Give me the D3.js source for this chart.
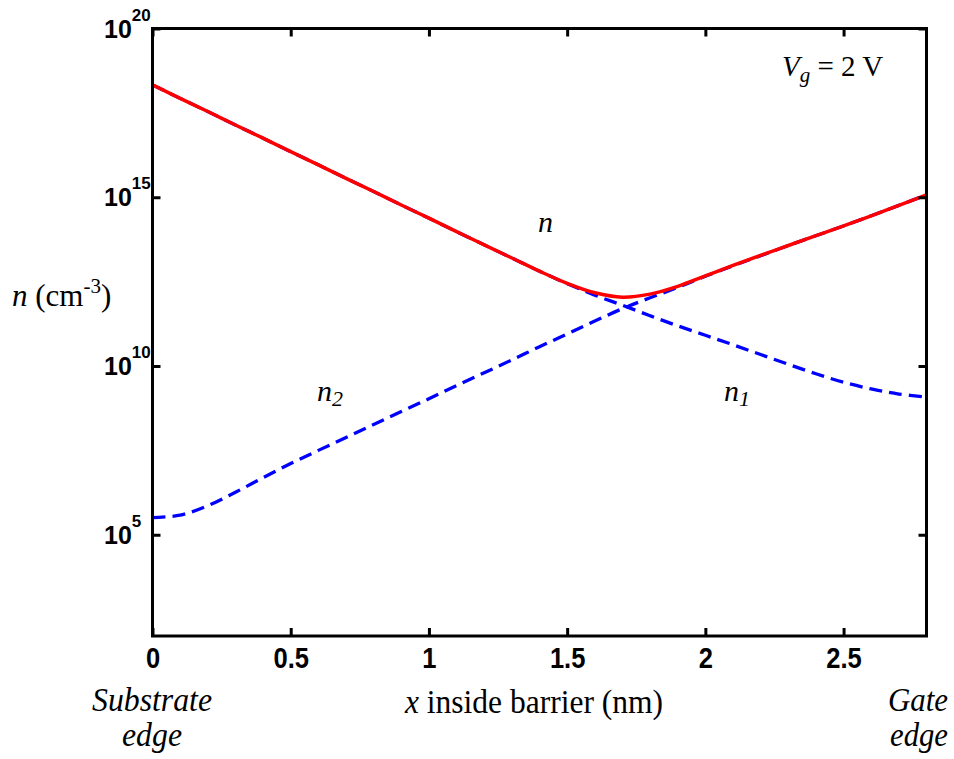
<!DOCTYPE html>
<html>
<head>
<meta charset="utf-8">
<script src="https://cdn.jsdelivr.net/npm/d3@7"></script>
<style>
  html, body { margin: 0; padding: 0; background: #fff; }
  svg { display: block; }
  .tick line { stroke: #000; stroke-width: 3; }
  .domain { display: none; }
</style>
</head>
<body>
<svg id="chart" width="954" height="759"></svg>
<script>
// Position inside barrier (nm)
const xPos = [0, 0.1, 0.2, 0.3, 0.4, 0.5, 0.6, 0.7, 0.8, 0.9, 1.0, 1.1, 1.2, 1.3, 1.4,
              1.5, 1.6, 1.7, 1.8, 1.9, 2.0, 2.1, 2.2, 2.3, 2.4, 2.5, 2.6, 2.7, 2.8];

// log10 of carrier density (cm^-3)
const logN1 = [18.33, 17.93, 17.54, 17.14, 16.75, 16.35, 15.96, 15.56, 15.17, 14.77, 14.38, 13.98, 13.59, 13.20, 12.81,
               12.44, 12.10, 11.80, 11.49, 11.19, 10.91, 10.63, 10.34, 10.05, 9.77, 9.52, 9.32, 9.17, 9.08];
const logN2 = [5.51, 5.58, 5.86, 6.26, 6.69, 7.11, 7.50, 7.88, 8.27, 8.65, 9.03, 9.42, 9.80, 10.18, 10.57,
               10.95, 11.33, 11.70, 12.02, 12.33, 12.66, 12.97, 13.27, 13.57, 13.86, 14.15, 14.45, 14.76, 15.07];
const logN  = [18.33, 17.93, 17.54, 17.14, 16.75, 16.35, 15.96, 15.56, 15.17, 14.77, 14.38, 13.98, 13.59, 13.20, 12.81,
               12.45, 12.17, 12.04, 12.13, 12.36, 12.67, 12.98, 13.28, 13.57, 13.86, 14.15, 14.45, 14.76, 15.07];

const xTicks = [0, 0.5, 1, 1.5, 2, 2.5];
const xTickLabels = ["0", "0.5", "1", "1.5", "2", "2.5"];
const yTickExps = [5, 10, 15, 20];

const svg = d3.select("#chart");
const pLeft = 152.5, pRight = 926.5, pTop = 28.5, pBottom = 636;

const x = d3.scaleLinear().domain([0, 2.8]).range([pLeft, pRight]);
const y = d3.scaleLog().domain([1e2, 1e20]).range([pBottom, pTop]);

svg.append("defs").append("clipPath").attr("id", "plotClip")
  .append("rect").attr("x", pLeft).attr("y", pTop)
  .attr("width", pRight - pLeft).attr("height", pBottom - pTop);

// Curves
const line = d3.line()
  .x(d => x(d[0]))
  .y(d => y(Math.pow(10, d[1])))
  .curve(d3.curveCatmullRom.alpha(0.5));

const plot = svg.append("g").attr("clip-path", "url(#plotClip)");
plot.append("path")
  .datum(xPos.map((v, i) => [v, logN1[i]]))
  .attr("d", line).attr("fill", "none")
  .attr("stroke", "#0000ff").attr("stroke-width", 3.3)
  .attr("stroke-dasharray", "13,7");
plot.append("path")
  .datum(xPos.map((v, i) => [v, logN2[i]]))
  .attr("d", line).attr("fill", "none")
  .attr("stroke", "#0000ff").attr("stroke-width", 3.3)
  .attr("stroke-dasharray", "13,7");
plot.append("path")
  .datum(xPos.map((v, i) => [v, logN[i]]))
  .attr("d", line).attr("fill", "none")
  .attr("stroke", "#ff0000").attr("stroke-width", 3.5);

// Axes with inward ticks on all four sides
const fmtX = (d) => xTickLabels[xTicks.indexOf(d)];
const gBottom = svg.append("g").attr("transform", `translate(0,${pBottom})`)
  .call(d3.axisBottom(x).tickValues(xTicks).tickSize(-8).tickPadding(0).tickFormat(fmtX));
gBottom.selectAll("text")
  .attr("font-family", "'Liberation Sans', Arial, sans-serif")
  .attr("font-weight", "bold").attr("font-size", 29).attr("fill", "#000")
  .attr("dy", null).attr("y", 32)
  .attr("transform", "scale(0.88,1)");

svg.append("g").attr("transform", `translate(0,${pTop})`)
  .call(d3.axisTop(x).tickValues(xTicks).tickSize(-8).tickFormat(""));

const yTickVals = yTickExps.map(e => Math.pow(10, e));
svg.append("g").attr("transform", `translate(${pLeft},0)`)
  .call(d3.axisLeft(y).tickValues(yTickVals).tickSize(-8).tickFormat(""));
svg.append("g").attr("transform", `translate(${pRight},0)`)
  .call(d3.axisRight(y).tickValues(yTickVals).tickSize(-8).tickFormat(""));

// Y tick labels: 10^k
const yLab = svg.append("g")
  .attr("font-family", "'Liberation Sans', Arial, sans-serif")
  .attr("font-weight", "bold").attr("fill", "#000");
yTickExps.forEach(e => {
  const t = yLab.append("text")
    .attr("x", 104).attr("y", y(Math.pow(10, e)) + 9)
    .attr("font-size", 25);
  t.append("tspan").text("10");
  t.append("tspan").attr("font-size", 17).attr("dy", -17).text(e);
});

// Frame
svg.append("rect")
  .attr("x", pLeft).attr("y", pTop)
  .attr("width", pRight - pLeft).attr("height", pBottom - pTop)
  .attr("fill", "none").attr("stroke", "#000").attr("stroke-width", 3);

// Text in serif
const serif = "'Liberation Serif', 'Times New Roman', serif";

svg.append("text")
  .attr("x", 405).attr("y", 713)
  .attr("font-family", serif).attr("font-size", 34)
  .attr("textLength", 258).attr("lengthAdjust", "spacingAndGlyphs")
  .call(t => {
    t.append("tspan").attr("font-style", "italic").text("x");
    t.append("tspan").text(" inside barrier (nm)");
  });

const sideLabel = (txt, xs, ys, len) => svg.append("text")
  .attr("x", xs).attr("y", ys)
  .attr("font-family", serif).attr("font-style", "italic").attr("font-size", 34)
  .attr("textLength", len).attr("lengthAdjust", "spacingAndGlyphs")
  .text(txt);
sideLabel("Substrate", 92, 711, 120);
sideLabel("edge", 122, 746, 60);
sideLabel("Gate", 888, 711, 60);
sideLabel("edge", 890, 746, 58);

// Y axis title
svg.append("text")
  .attr("x", 12).attr("y", 306)
  .attr("font-family", serif).attr("font-size", 31)
  .call(t => {
    t.append("tspan").attr("font-style", "italic").text("n");
    t.append("tspan").text(" (cm");
    t.append("tspan").attr("font-size", 21).attr("dy", -13).text("-3");
    t.append("tspan").attr("dy", 13).text(")");
  });

// Gate voltage annotation
svg.append("text")
  .attr("x", 782).attr("y", 76)
  .attr("font-family", serif).attr("font-size", 29)
  .call(t => {
    t.append("tspan").attr("font-style", "italic").text("V");
    t.append("tspan").attr("font-style", "italic").attr("font-size", 21).attr("dy", 6).text("g");
    t.append("tspan").attr("dy", -6).text(" = 2 V");
  });

// Curve labels
const curveLabel = (xs, ys, sub) => {
  const t = svg.append("text")
    .attr("x", xs).attr("y", ys)
    .attr("font-family", serif).attr("font-style", "italic").attr("font-size", 30);
  t.append("tspan").text("n");
  if (sub) t.append("tspan").attr("font-size", 22).attr("dy", 5).text(sub);
};
curveLabel(538, 232, null);
curveLabel(317, 401, "2");
curveLabel(724, 401, "1");
</script>
</body>
</html>
